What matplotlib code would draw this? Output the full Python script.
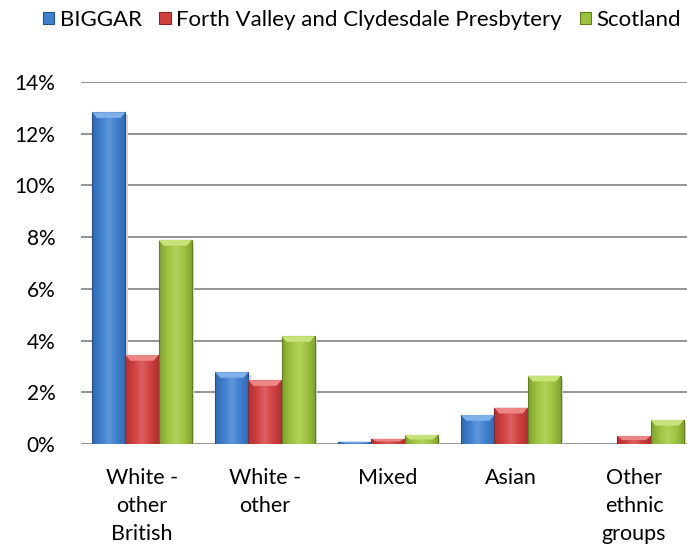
import matplotlib
matplotlib.use("Agg")
import matplotlib.pyplot as plt
import numpy as np
from matplotlib.colors import to_rgb

categories = ["White -\nother\nBritish", "White -\nother", "Mixed", "Asian", "Other\nethnic\ngroups"]
series_names = ["BIGGAR", "Forth Valley and Clydesdale Presbytery", "Scotland"]
biggar = [12.83, 2.78, 0.09, 1.12, 0.0]
forth = [3.44, 2.47, 0.20, 1.40, 0.31]
scotland = [7.89, 4.17, 0.35, 2.64, 0.93]
yticks = [0, 2, 4, 6, 8, 10, 12, 14]

plt.rcParams['font.family'] = ['Lato', 'DejaVu Sans']

fig = plt.figure(figsize=(6.87, 5.48), dpi=100)
ax = fig.add_axes([80.5/687, (548-444)/548, 615/687, (444-82)/548])

colors = ["#3f7fcc", "#cf3f40", "#9dc23f"]
dark = ["#24528f", "#8f2426", "#627f22"]
light = ["#7fb0ea", "#ec8586", "#c8e27a"]
data = [biggar, forth, scotland]
x = np.arange(len(categories))
w = 0.27

for i, (vals, c, d, l) in enumerate(zip(data, colors, dark, light)):
    bars = ax.bar(x + (i - 1) * w, vals, width=w, color=c, edgecolor=d,
                  linewidth=0.8, zorder=3, label=series_names[i])
    cmap = matplotlib.colors.LinearSegmentedColormap.from_list(
        "g", [d, c, l, c, d])
    for b in bars:
        if b.get_height() <= 0:
            continue
        x0, y0 = b.get_x(), b.get_y()
        bw, bh = b.get_width(), b.get_height()
        grad = np.linspace(0, 1, 64).reshape(1, -1)
        im = ax.imshow(grad, extent=[x0, x0 + bw, y0, y0 + bh], cmap=cmap,
                       aspect='auto', zorder=3.5, interpolation='bilinear',
                       alpha=0.5)
        im.set_clip_path(b)
        # top bevel
        bev = min(0.22, bh * 0.5)
        inset = bw * 0.15
        ax.fill([x0, x0 + bw, x0 + bw - inset, x0 + inset],
                [y0 + bh, y0 + bh, y0 + bh - bev, y0 + bh - bev],
                color=l, zorder=3.6, lw=0)
        # shadow
        ax.fill([x0 + bw, x0 + bw + 0.02, x0 + bw + 0.02, x0 + bw],
                [y0, y0, y0 + bh - 0.1, y0 + bh - 0.1],
                color="#d6d6d6", zorder=2.9, lw=0)

ax.set_xlim(-0.5, len(categories) - 0.5)
ax.set_ylim(0, 14)
ax.set_yticks(yticks)
ax.set_yticklabels([f"{t}%" for t in yticks], fontsize=15)
ax.set_xticks(x)
ax.set_xticklabels(categories, linespacing=1.52, fontsize=15.5)
ax.grid(axis='y', color='#8c8c8c', linewidth=1.3, zorder=0)
for s in ax.spines.values():
    s.set_visible(False)
ax.tick_params(axis='both', length=0, colors='black')
ax.tick_params(axis='y', pad=18)
ax.tick_params(axis='x', pad=17)

leg = fig.legend(loc='center', bbox_to_anchor=(362/687, 1 - 20/548), ncol=3,
                 frameon=False, fontsize=16, handlelength=0.5, handleheight=0.5,
                 handletextpad=0.25, columnspacing=0.8, borderaxespad=0)

fig.savefig("out.png", dpi=100)
